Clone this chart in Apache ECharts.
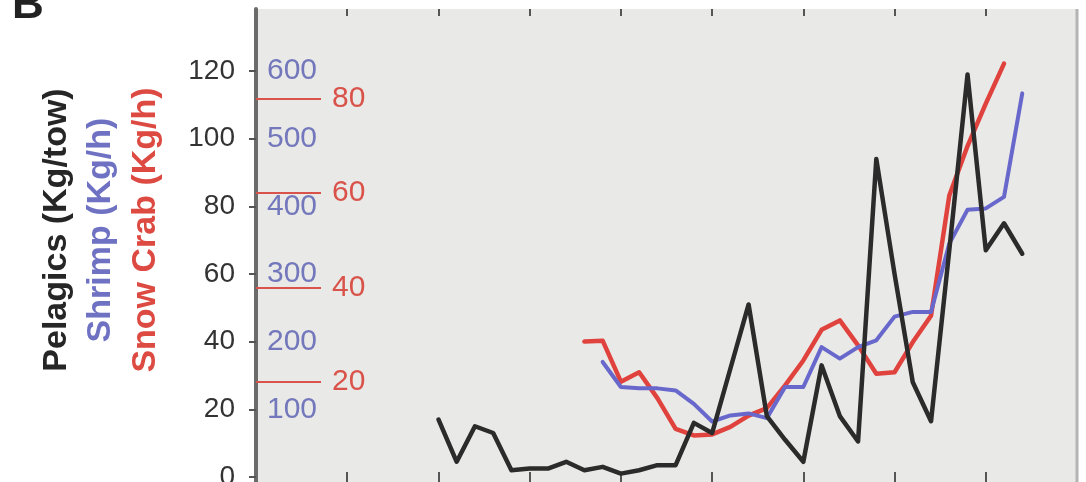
<!DOCTYPE html>
<html>
<head>
<meta charset="utf-8">
<script src="https://cdn.jsdelivr.net/npm/echarts@6/dist/echarts.min.js"></script>
<style>
  html, body { margin: 0; padding: 0; background: #ffffff; }
  #chart { width: 1086px; height: 482px; }
</style>
</head>
<body>
<div id="chart"></div>
<script>
// Survey years
const years = [1970, 1971, 1972, 1973, 1974, 1975, 1976, 1977, 1978, 1979,
               1980, 1981, 1982, 1983, 1984, 1985, 1986, 1987, 1988, 1989,
               1990, 1991, 1992, 1993, 1994, 1995, 1996, 1997, 1998, 1999,
               2000, 2001, 2002];

// Pelagics biomass (Kg/tow), 1970-2002
const pelagics = [17, 4.5, 15, 13, 2, 2.5, 2.5, 4.5, 2, 3,
                  1, 2, 3.5, 3.5, 16, 13, 32, 51, 18, 11,
                  4.5, 33, 18, 10.5, 94, 60, 28, 16.5, 67, 119,
                  67, 75, 66];

// Shrimp catch rate (Kg/h), 1979-2002
const shrimpYears = [1979, 1980, 1981, 1982, 1983, 1984, 1985, 1986, 1987, 1988,
                     1989, 1990, 1991, 1992, 1993, 1994, 1995, 1996, 1997, 1998,
                     1999, 2000, 2001, 2002];
const shrimp = [170, 133, 131, 131, 128, 108, 82, 91, 94, 87,
                133, 133, 192, 175, 192, 202, 237, 244, 244, 345,
                395, 397, 414, 567];

// Snow crab catch rate (Kg/h), 1978-2001
const crabYears = [1978, 1979, 1980, 1981, 1982, 1983, 1984, 1985, 1986, 1987,
                   1988, 1989, 1990, 1991, 1992, 1993, 1994, 1995, 1996, 1997,
                   1998, 1999, 2000, 2001];
const crab = [28.5, 28.7, 20, 22, 16.5, 10, 8.6, 8.8, 10.4, 12.8,
              14.4, 19.2, 24.5, 31, 33, 27.7, 21.7, 22, 28.4, 34,
              59.5, 70, 79, 87.5];

// Tick values for each scale
const yearTicks = [1965, 1970, 1975, 1980, 1985, 1990, 1995, 2000];
const pelagicTicks = [0, 20, 40, 60, 80, 100, 120];
const shrimpTicks = [100, 200, 300, 400, 500, 600];
const crabTicks = [20, 40, 60, 80];

const FONT = '"Liberation Sans", Arial, Helvetica, sans-serif';
const BLACK = '#2b2b2b';
const RED = '#e0433e';
const BLUE = '#6868cc';
const BLUE_TXT = '#7377bb';
const RED_TXT = '#d9534a';

const pairs = (xs, ys) => xs.map((x, i) => [x, ys[i]]);

const chart = echarts.init(document.getElementById('chart'), null, { renderer: 'canvas' });

const tickAxis = (position) => ({
  type: 'value',
  gridIndex: 0,
  position: position,
  min: 1960,
  max: 2005,
  axisLine: { show: false, onZero: false },
  axisTick: {
    show: true, inside: true, length: position === 'top' ? 7 : 10,
    customValues: yearTicks,
    lineStyle: { color: '#555', width: 2 }
  },
  axisLabel: { show: false },
  splitLine: { show: false }
});

const option = {
  backgroundColor: '#ffffff',
  animation: false,
  grid: {
    left: 256, right: 9, top: 9, bottom: 0,
    containLabel: false,
    outerBoundsMode: 'none',
    show: true, backgroundColor: '#e9e9e7', borderWidth: 0
  },
  xAxis: [tickAxis('bottom'), tickAxis('top')],
  yAxis: [
    {
      // Pelagics scale, labelled outside the frame
      type: 'value',
      position: 'left', offset: 0,
      min: -1.48, max: 138.34,
      axisLine: { show: true, onZero: false, lineStyle: { color: '#6b6b6b', width: 4 } },
      axisTick: {
        show: true, inside: false, length: 7,
        customValues: pelagicTicks,
        lineStyle: { color: '#555', width: 2 }
      },
      axisLabel: {
        customValues: pelagicTicks,
        margin: 21, color: '#333', fontSize: 28, fontFamily: FONT
      },
      splitLine: { show: false }
    },
    {
      // Shrimp scale, labelled just inside the frame
      type: 'value',
      position: 'left', offset: 0,
      min: -7.39, max: 691.7,
      axisLine: { show: false, onZero: false },
      axisTick: { show: false },
      axisLabel: {
        inside: true, customValues: shrimpTicks,
        margin: 11, color: BLUE_TXT, fontSize: 30, fontFamily: FONT
      },
      splitLine: { show: false }
    },
    {
      // Snow crab scale, long inner ticks with labels past them
      type: 'value',
      position: 'left', offset: 0,
      min: -1.29, max: 99.08,
      axisLine: { show: false, onZero: false },
      axisTick: {
        show: true, inside: true, length: 65,
        customValues: crabTicks,
        lineStyle: { color: RED_TXT, width: 2 }
      },
      axisLabel: {
        inside: true, customValues: crabTicks,
        margin: 76, color: RED_TXT, fontSize: 30, fontFamily: FONT
      },
      splitLine: { show: false }
    }
  ],
  series: [
    {
      name: 'Snow Crab', type: 'line', yAxisIndex: 2,
      data: pairs(crabYears, crab), symbol: 'none',
      lineStyle: { color: RED, width: 4.5, cap: 'round', join: 'round' }, z: 3
    },
    {
      name: 'Shrimp', type: 'line', yAxisIndex: 1,
      data: pairs(shrimpYears, shrimp), symbol: 'none',
      lineStyle: { color: BLUE, width: 4, cap: 'round', join: 'round' }, z: 4
    },
    {
      name: 'Pelagics', type: 'line', yAxisIndex: 0,
      data: pairs(years, pelagics), symbol: 'none',
      lineStyle: { color: BLACK, width: 4.5, cap: 'round', join: 'round' }, z: 5
    }
  ],
  graphic: [
    // right edge of the frame
    { type: 'line', shape: { x1: 1077, y1: 9, x2: 1077, y2: 482 },
      style: { stroke: '#b4b4b4', lineWidth: 3 }, z: 10 },
    // panel letter
    { type: 'text', x: 12, y: 28,
      style: { text: 'B', font: 'bold 44px ' + FONT, fill: '#222',
               textAlign: 'left', textVerticalAlign: 'bottom' } },
    // axis titles
    { type: 'text', x: 57, y: 230, rotation: Math.PI / 2,
      style: { text: 'Pelagics (Kg/tow)', font: 'bold 34px ' + FONT, fill: '#262626',
               textAlign: 'center', textVerticalAlign: 'middle' } },
    { type: 'text', x: 101, y: 230, rotation: Math.PI / 2,
      style: { text: 'Shrimp (Kg/h)', font: 'bold 34px ' + FONT, fill: '#6f72c2',
               textAlign: 'center', textVerticalAlign: 'middle' } },
    { type: 'text', x: 146, y: 230, rotation: Math.PI / 2,
      style: { text: 'Snow Crab (Kg/h)', font: 'bold 34px ' + FONT, fill: '#dc4a42',
               textAlign: 'center', textVerticalAlign: 'middle' } }
  ]
};

chart.setOption(option);
</script>
</body>
</html>
